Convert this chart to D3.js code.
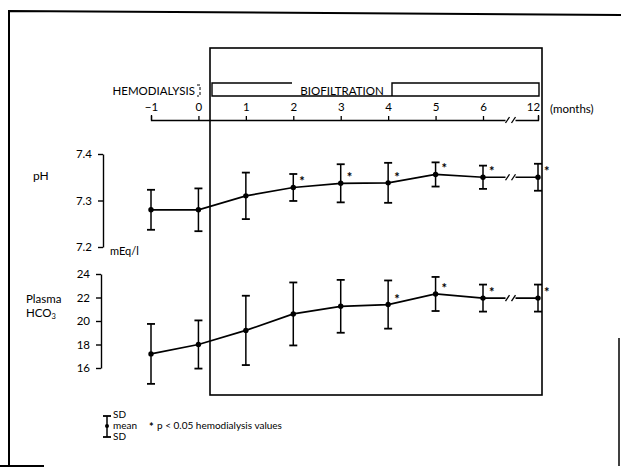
<!DOCTYPE html>
<html>
<head>
<meta charset="utf-8">
<script src="https://cdn.jsdelivr.net/npm/d3@7"></script>
<style>
  body { margin: 0; background: #fff; }
  svg text { font-family: Lato, "Liberation Sans", sans-serif; fill: #000; }
</style>
</head>
<body>
<div id="chart"></div>
<script>
// time points (months), 12 sits after an axis break
const months = [-1, 0, 1, 2, 3, 4, 5, 6, 12];
const monthLabels = ["\u22121", "0", "1", "2", "3", "4", "5", "6", "12"];

// pH, mean and SD
const phMean = [7.28, 7.28, 7.31, 7.328, 7.337, 7.338, 7.356, 7.35, 7.35];
const phSD = [0.043, 0.046, 0.05, 0.029, 0.041, 0.043, 0.026, 0.025, 0.029];
const phSig = [false, false, false, true, true, true, true, true, true];

// plasma HCO3 (mEq/l), mean and SD
const hcoMean = [17.2, 18.0, 19.2, 20.6, 21.25, 21.4, 22.3, 21.95, 21.95];
const hcoSD = [2.55, 2.05, 2.95, 2.68, 2.25, 2.05, 1.45, 1.15, 1.15];
const hcoSig = [false, false, false, false, false, true, true, true, true];

const phTicks = [7.2, 7.3, 7.4];
const hcoTicks = [16, 18, 20, 22, 24];

const width = 621, height = 472;
const font = "Lato, 'Liberation Sans', sans-serif";

const svg = d3.select("#chart")
  .append("svg")
  .attr("width", width)
  .attr("height", height);

// x: linear up to 6 months, then compressed to 12 (broken axis)
const x = d3.scaleLinear().domain([-1, 6, 12]).range([151, 483, 538]);
const breakAt = 9;
const yPH = d3.scaleLinear().domain([7.2, 7.4]).range([247, 154]);
const yHCO = d3.scaleLinear().domain([16, 24]).range([368, 274]);

// outer frame (scanned page border)
svg.append("path")
  .attr("d", "M9,466 V11 L621,15")
  .attr("fill", "none").attr("stroke", "#000").attr("stroke-width", 2);
svg.append("line").attr("x1", 0).attr("x2", 44).attr("y1", 466).attr("y2", 466)
  .attr("stroke", "#000").attr("stroke-width", 2);
svg.append("line").attr("x1", 619).attr("x2", 619).attr("y1", 338).attr("y2", 466)
  .attr("stroke", "#000").attr("stroke-width", 1.5);

// biofiltration period box
svg.append("rect")
  .attr("x", 210).attr("y", 48)
  .attr("width", 332).attr("height", 347)
  .attr("fill", "none").attr("stroke", "#000").attr("stroke-width", 1.6);

// treatment bar
const barTop = 83, barBot = 96;
svg.append("text")
  .attr("x", 195).attr("y", 95)
  .attr("text-anchor", "end")
  .attr("font-size", 11.5)
  .text("HEMODIALYSIS");
svg.append("path")
  .attr("d", `M197,${barTop + 2} h3 v11 h-3`)
  .attr("fill", "none").attr("stroke", "#000").attr("stroke-width", 1)
  .attr("stroke-dasharray", "3,2");
svg.append("path")
  .attr("d", `M292,${barTop} H212 V${barBot} H${x(12) + 1} V${barTop} H392 V${barBot}`)
  .attr("fill", "none").attr("stroke", "#000").attr("stroke-width", 1.4);
svg.append("rect").attr("x", 294).attr("y", 84).attr("width", 96).attr("height", 11).attr("fill", "#fff");
svg.append("text")
  .attr("x", 342).attr("y", 95)
  .attr("text-anchor", "middle")
  .attr("font-size", 11.5)
  .text("BIOFILTRATION");

// time axis on top
const xAxis = d3.axisTop(x)
  .tickValues(months)
  .tickFormat((d, i) => monthLabels[i])
  .tickSize(4)
  .tickSizeOuter(5)
  .tickPadding(5);
const gx = svg.append("g")
  .attr("transform", "translate(0,120)")
  .call(xAxis);
gx.selectAll("text").attr("font-size", 11.5).attr("font-family", font).attr("fill", "#000");
gx.selectAll(".tick").filter(d => d === 12).select("text").attr("dx", -5);
gx.selectAll("path, line").attr("stroke", "#000").attr("stroke-width", 1.3);
svg.append("text")
  .attr("x", 550).attr("y", 113)
  .attr("font-size", 11.5)
  .text("(months)");

// draws the "//" break on a horizontal line at height y
function drawBreak(y) {
  const bx = x(breakAt);
  svg.append("rect")
    .attr("x", bx - 5).attr("y", y - 4)
    .attr("width", 10).attr("height", 8)
    .attr("fill", "#fff");
  [-3, 3].forEach(dx => {
    svg.append("line")
      .attr("x1", bx + dx - 2).attr("y1", y + 3)
      .attr("x2", bx + dx + 2).attr("y2", y - 3)
      .attr("stroke", "#000").attr("stroke-width", 1.3);
  });
}
drawBreak(120);

// left axes
const phAxis = d3.axisLeft(yPH)
  .tickValues(phTicks)
  .tickFormat(d3.format(".1f"))
  .tickSize(5).tickSizeOuter(0).tickPadding(6);
const gph = svg.append("g").attr("transform", "translate(103,0)").call(phAxis);

const hcoAxis = d3.axisLeft(yHCO)
  .tickValues(hcoTicks)
  .tickSize(5).tickSizeOuter(0).tickPadding(6);
const ghco = svg.append("g").attr("transform", "translate(101,0)").call(hcoAxis);

[gph, ghco].forEach(g => {
  g.selectAll("text").attr("font-size", 11.5).attr("font-family", font).attr("fill", "#000");
  g.selectAll("path, line").attr("stroke", "#000").attr("stroke-width", 1.4);
});

svg.append("text").attr("x", 33).attr("y", 180).attr("font-size", 12).text("pH");
svg.append("text").attr("x", 110).attr("y", 255).attr("font-size", 11).text("mEq/l");
svg.append("text").attr("x", 26).attr("y", 303).attr("font-size", 11.5).text("Plasma");
const hcoLabel = svg.append("text").attr("x", 26).attr("y", 317).attr("font-size", 11.5);
hcoLabel.append("tspan").text("HCO");
hcoLabel.append("tspan").attr("font-size", 7.5).attr("dy", 2).text("3");

// one series: line of means, SD bars, points, stars
function drawSeries(means, sds, sig, y) {
  const pts = months.map((m, i) => ({ m, v: means[i], sd: sds[i], sig: sig[i] }));
  const line = d3.line().x(d => x(d.m)).y(d => y(d.v));
  svg.append("path")
    .datum(pts)
    .attr("d", line)
    .attr("fill", "none")
    .attr("stroke", "#000")
    .attr("stroke-width", 1.7);
  const last = pts[pts.length - 1];
  drawBreak(y(last.v));

  const g = svg.append("g");
  const bars = g.selectAll("g.bar").data(pts).join("g").attr("class", "bar");
  bars.append("line")
    .attr("x1", d => x(d.m)).attr("x2", d => x(d.m))
    .attr("y1", d => y(d.v - d.sd)).attr("y2", d => y(d.v + d.sd))
    .attr("stroke", "#000").attr("stroke-width", 1.5);
  bars.append("line")
    .attr("x1", d => x(d.m) - 4).attr("x2", d => x(d.m) + 4)
    .attr("y1", d => y(d.v + d.sd)).attr("y2", d => y(d.v + d.sd))
    .attr("stroke", "#000").attr("stroke-width", 1.8);
  bars.append("line")
    .attr("x1", d => x(d.m) - 4).attr("x2", d => x(d.m) + 4)
    .attr("y1", d => y(d.v - d.sd)).attr("y2", d => y(d.v - d.sd))
    .attr("stroke", "#000").attr("stroke-width", 1.8);
  bars.append("circle")
    .attr("cx", d => x(d.m)).attr("cy", d => y(d.v))
    .attr("r", 2.7).attr("fill", "#000");
  g.selectAll("text.star").data(pts.filter(d => d.sig)).join("text")
    .attr("class", "star")
    .attr("x", d => x(d.m) + 6).attr("y", d => y(d.v) - 1)
    .attr("font-size", 13).attr("font-weight", "bold")
    .text("*");
}
drawSeries(phMean, phSD, phSig, yPH);
drawSeries(hcoMean, hcoSD, hcoSig, yHCO);

// legend
const lg = svg.append("g").attr("transform", "translate(107,0)");
lg.append("line").attr("x1", 0).attr("x2", 0).attr("y1", 416).attr("y2", 437).attr("stroke", "#000").attr("stroke-width", 1.5);
lg.append("line").attr("x1", -4).attr("x2", 4).attr("y1", 416).attr("y2", 416).attr("stroke", "#000").attr("stroke-width", 1.8);
lg.append("line").attr("x1", -4).attr("x2", 4).attr("y1", 437).attr("y2", 437).attr("stroke", "#000").attr("stroke-width", 1.8);
lg.append("circle").attr("cx", 0).attr("cy", 426).attr("r", 2).attr("fill", "#000");
lg.append("text").attr("x", 6).attr("y", 418).attr("font-size", 10).text("SD");
lg.append("text").attr("x", 6).attr("y", 429).attr("font-size", 10).text("mean");
lg.append("text").attr("x", 6).attr("y", 440).attr("font-size", 10).text("SD");
lg.append("text").attr("x", 42).attr("y", 431).attr("font-size", 11).attr("font-weight", "bold").text("*");
lg.append("text").attr("x", 50).attr("y", 429).attr("font-size", 10).text("p < 0.05 hemodialysis values");
</script>
</body>
</html>
